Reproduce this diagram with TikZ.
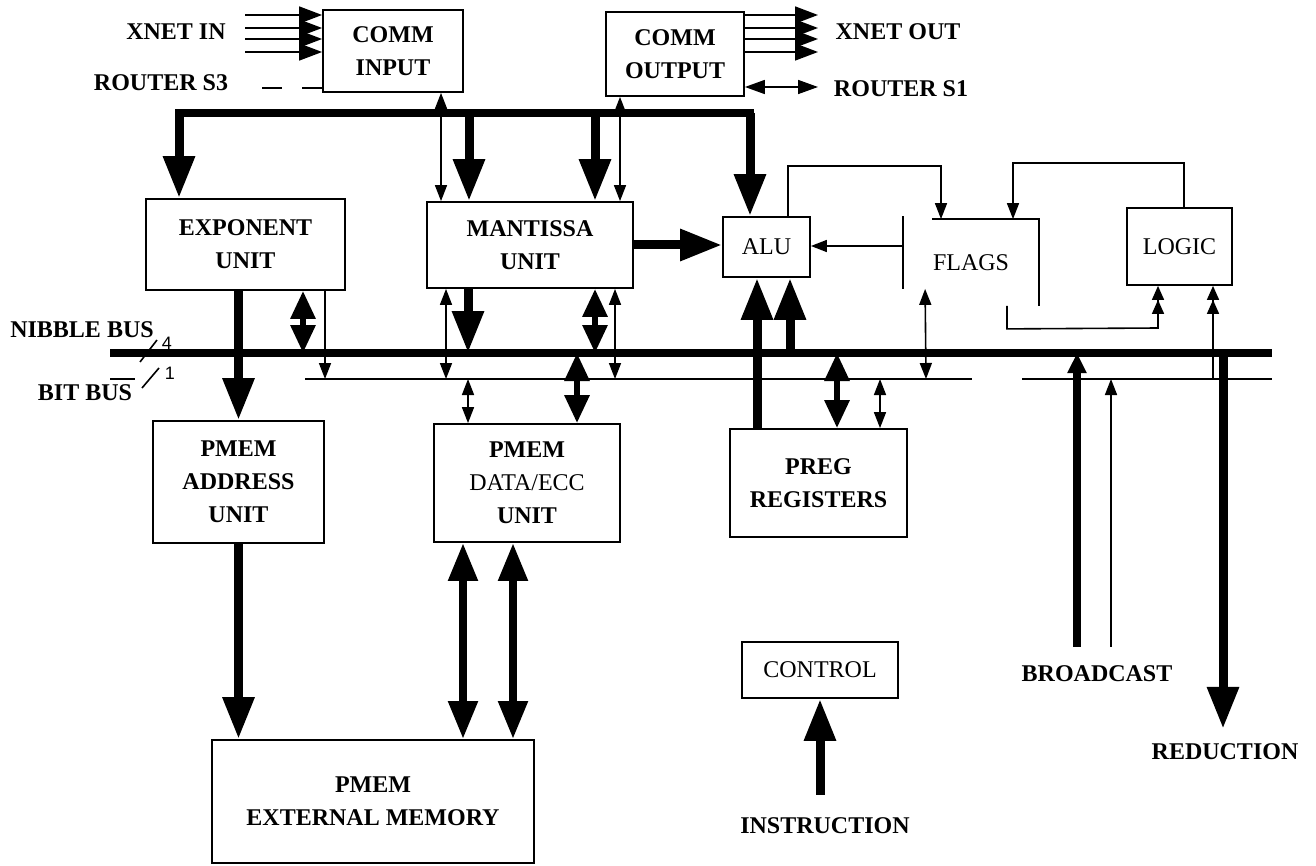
\documentclass[tikz,border=0pt]{standalone}
\usepackage{fontspec}
\setmainfont{Liberation Serif}
\setsansfont{Liberation Sans}
\usetikzlibrary{arrows.meta,calc}

\tikzset{
  blk/.style={draw, line width=0.9pt, inner sep=0pt, align=center,
    font=\bfseries\fontsize{12}{16.5}\selectfont},
  plainblk/.style={blk, font=\fontsize{12}{16.5}\selectfont},
  tag/.style={font=\bfseries\fontsize{12}{14}\selectfont},
  bus/.style={line width=4pt, line cap=rect},
  wire/.style={line width=0.8pt},
  sig/.style={wire, -{Triangle[width=6pt,length=8pt]}},
  sigs/.style={wire, {Triangle[width=6pt,length=8pt]}-{Triangle[width=6pt,length=8pt]}},
  fat/.style={line width=4.5pt, -{Triangle[width=15pt,length=21pt]}},
  fats/.style={line width=4pt, {Triangle[width=14pt,length=19pt]}-{Triangle[width=14pt,length=19pt]}},
  dia/.style={line width=3pt, {Triangle[width=12pt,length=14pt]}-{Triangle[width=12pt,length=14pt]}},
  dbl/.style={wire, -{Triangle[width=6pt,length=7pt] Triangle[width=6pt,length=7pt]}},
}

\begin{document}
\begin{tikzpicture}[x=0.5pt, y=-0.5pt]
\useasboundingbox (0,0) rectangle (1316,866);

% units
\node[blk, minimum width=70pt, minimum height=41pt] (cin) at (393,51) {COMM\\INPUT};
\node[blk, minimum width=69pt, minimum height=42pt] (cout) at (675,54) {COMM\\OUTPUT};
\node[blk, minimum width=99.5pt, minimum height=45.5pt] (expo) at (245.5,244.5) {EXPONENT\\UNIT};
\node[blk, minimum width=103pt, minimum height=43pt] (mant) at (530,245) {MANTISSA\\UNIT};
\node[plainblk, minimum width=43.5pt, minimum height=30pt] (alu) at (766.5,247) {ALU};
\node[plainblk, draw=none, minimum width=67pt, minimum height=42.5pt] (flags) at (971,262.5) {FLAGS};
\node[plainblk, minimum width=52.5pt, minimum height=38.5pt] (logic) at (1179.5,246.5) {LOGIC};
\node[blk, minimum width=85.5pt, minimum height=61pt] (padr) at (238.5,482) {PMEM\\ADDRESS\\UNIT};
\node[blk, minimum width=93pt, minimum height=59pt] (pdat) at (527,483) {PMEM\\{\mdseries DATA/ECC}\\UNIT};
\node[blk, minimum width=88.5pt, minimum height=54pt] (preg) at (818.5,483) {PREG\\REGISTERS};
\node[plainblk, minimum width=78pt, minimum height=28pt] (ctrl) at (820,670) {CONTROL};
\node[blk, minimum width=161pt, minimum height=61.5pt] (pext) at (373,801.5) {PMEM\\EXTERNAL MEMORY};

% flags box is open at the bottom
\draw[line width=0.9pt] ($(flags.north west)+(0,-3)$) -- ($(flags.south west)+(0,-17)$);
\draw[line width=0.9pt] ($(flags.north west)+(29,0)$) -- (flags.north east) -- (flags.south east);

% outside labels
\node[tag] (xin) at (176,32) {XNET IN};
\node[tag] (rs3) at (161,83) {ROUTER S3};
\node[tag] (xout) at (898,32) {XNET OUT};
\node[tag] (rs1) at (901,89) {ROUTER S1};
\node[tag] (nibl) at (82,330) {NIBBLE BUS};
\node[tag] (bitl) at (85,393) {BIT BUS};
\node[font=\sffamily\fontsize{9}{10}\selectfont] (w4) at (167,343) {4};
\node[font=\sffamily\fontsize{9}{10}\selectfont] (w1) at (170,373) {1};
\node[tag] (bcast) at (1097,674) {BROADCAST};
\node[tag] (redn) at (1225,752) {REDUCTION};
\node[tag] (instr) at (825,826) {INSTRUCTION};

% network links
\coordinate (xinS) at (245,0);
\coordinate (xoutE) at (818,0);
\foreach \yy in {15,28,39,52}{
  \draw[wire, -{Triangle[width=8.5pt,length=11.5pt]}] (xinS |- 0,\yy) -- (cin.west |- 0,\yy);
  \draw[wire, -{Triangle[width=8.5pt,length=11.5pt]}] (cout.east |- 0,\yy) -- (xoutE |- 0,\yy);
}
\draw[line width=1.2pt, dash pattern=on 10pt off 10pt] (262,88) -- (cin.west |- 0,88);
\draw[wire, {Triangle[width=7pt,length=10pt]}-{Triangle[width=7pt,length=10pt]}] (cout.east |- 0,87) -- (xoutE |- 0,87);

% top bus
\coordinate (tbL) at (179,113);
\coordinate (tbR) at (750,113);
\draw[bus] (tbL) -- (tbR);
\draw[fat] (tbL) -- (tbL |- expo.north);
\draw[fat] (469,0 |- tbL) -- (469,0 |- mant.north);
\draw[fat] (595,0 |- tbL) -- (595,0 |- mant.north);
\draw[fat] (tbR) -- (tbR |- alu.north);
\draw[sigs] (cin.south -| 441,0) -- (mant.north -| 441,0);
\draw[sigs] (cout.south -| 620,0) -- (mant.north -| 620,0);

% nibble bus and bit bus
\coordinate (nbL) at (110,353);
\coordinate (nbR) at (1272,353);
\coordinate (bbL) at (110,379);
\coordinate (bbR) at (1272,379);
\draw[bus, line cap=butt] (nbL) -- (nbR);
\draw[wire] (bbL) -- ++(25,0) (305,0 |- bbL) -- (972,0 |- bbL) (1022,0 |- bbL) -- (bbR);
\draw[wire] (140,362) -- (157,340);
\draw[wire] (142,388) -- (159,368);

% exponent
\draw[fat] (padr.north |- expo.south) -- (padr.north);
\draw[dia] (expo.south -| 303,0) -- (303,0 |- nbL);
\draw[sig] (expo.south -| 325,0) -- (325,0 |- bbL);

% mantissa
\draw[sigs] (mant.south -| 446,0) -- (446,0 |- bbL);
\draw[fat] (mant.south -| 468,0) -- (468,0 |- nbL);
\draw[dia] (mant.south -| 595,0) -- (595,0 |- nbL);
\draw[sigs] (mant.south -| 615,0) -- (615,0 |- bbL);
\draw[fat] (mant.east) -- (mant.east -| alu.west);

% alu, flags, logic
\draw[fat] (preg.north -| 757,0) -- (alu.south -| 757,0);
\draw[fat] (790,0 |- nbL) -- (alu.south -| 790,0);
\draw[sig] (alu.north -| 788,0) -- (788,166) -- (941,166) -- (flags.north -| 941,0);
\draw[sig] (logic.north -| 1184,0) -- (1184,163) -- (1013,163) -- (flags.north -| 1013,0);
\draw[sig] (flags.west |- 0,246) -- (alu.east |- 0,246);
\draw[sigs] ($(flags.south west)+(22,-17)$) -- (926,0 |- bbL);
\draw[dbl] ($(flags.south)+(36,0)$) -- ++(0,23) -- (1158,328) -- (logic.south -| 1158,0);
\draw[dbl] (1213,0 |- bbL) -- (logic.south -| 1213,0);

% memory side
\draw[sigs] (468,0 |- bbL) -- (pdat.north -| 468,0);
\draw[dia] (577,0 |- nbL) -- (pdat.north -| 577,0);
\draw[fats] (pdat.south -| 463,0) -- (pext.north -| 463,0);
\draw[fats] (pdat.south -| 513,0) -- (pext.north -| 513,0);
\draw[fat] (padr.south) -- (padr.south |- pext.north);
\draw[dia] (837,0 |- nbL) -- (preg.north -| 837,0);
\draw[sigs] (880,0 |- bbL) -- (preg.north -| 880,0);

% broadcast, reduction, instruction
\coordinate (bcTop) at ([yshift=6pt]bcast.north);
\coordinate (rdTop) at ([yshift=4pt]redn.north);
\coordinate (inTop) at ([yshift=8pt]instr.north);
\draw[line width=4pt, -{Triangle[width=9pt,length=10pt]}] (bcTop -| 1077,0) -- (1077,0 |- nbL);
\draw[sig] (bcTop -| 1111,0) -- (1111,0 |- bbL);
\draw[fat] (1223,0 |- nbL) -- (rdTop -| 1223,0);
\draw[fat] (ctrl.south |- inTop) -- (ctrl.south);
\end{tikzpicture}
\end{document}
